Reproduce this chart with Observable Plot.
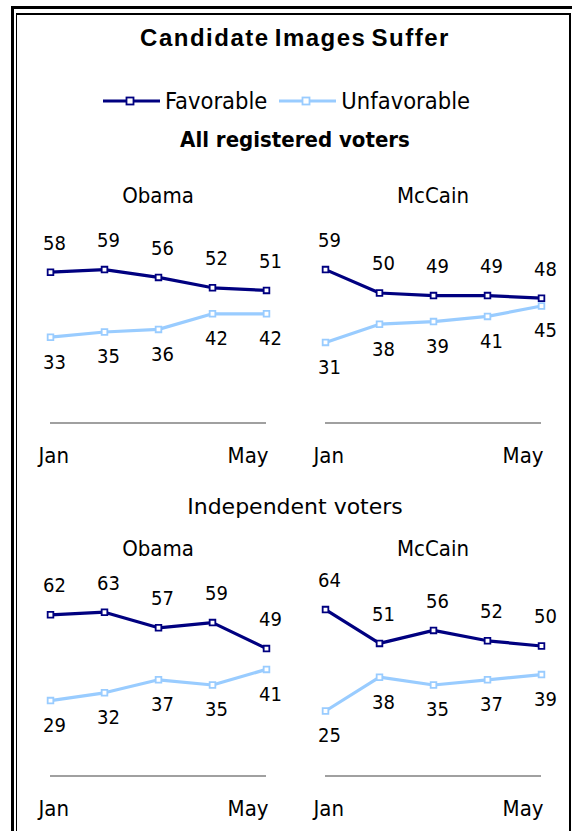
<!DOCTYPE html>
<html>
<head>
<meta charset="utf-8">
<script src="https://cdn.jsdelivr.net/npm/d3@7"></script>
<script src="https://cdn.jsdelivr.net/npm/@observablehq/plot@0.6"></script>
<style>
html,body{margin:0;padding:0;background:#fff;}
#root{position:relative;width:572px;height:831px;overflow:hidden;background:#fff;
  font-family:"DejaVu Sans Condensed","DejaVu Sans",sans-serif;font-stretch:condensed;color:#000;}
.abs{position:absolute;}
.outer{left:11px;top:6px;width:620px;height:900px;border:3px solid #000;z-index:5;}
.inner{left:16px;top:13px;width:552px;height:900px;border-top:2px solid #000;border-right:2px solid #000;border-left:1px solid #000;z-index:5;}
.title{left:0;width:590px;top:26px;line-height:24px;text-align:center;font-family:"Liberation Sans",Arial,sans-serif;font-stretch:normal;font-weight:bold;font-size:24px;letter-spacing:1.5px;word-spacing:-3px;}
.head{left:0;width:590px;text-align:center;font-size:22px;line-height:22px;}
.legend{left:103px;top:89px;height:24px;display:flex;align-items:center;font-size:23.5px;line-height:24px;}
.legend svg{display:block;}
.panel{width:275px;height:300px;}
</style>
</head>
<body>
<div id="root">
  <div class="abs outer"></div>
  <div class="abs inner"></div>
  <div class="abs title" id="title"></div>
  <div class="abs legend" id="legend"></div>
  <div class="abs head" id="head1" style="top:129px;font-weight:bold;"></div>
  <div class="abs head" id="head2" style="top:496px;font-family:'DejaVu Sans',sans-serif;font-stretch:normal;"></div>
  <div class="abs panel" id="p1" style="left:20px;top:170px;"></div>
  <div class="abs panel" id="p2" style="left:295px;top:170px;"></div>
  <div class="abs panel" id="p3" style="left:20px;top:522.5px;"></div>
  <div class="abs panel" id="p4" style="left:295px;top:522.5px;"></div>
</div>
<script>
// ---- data ----
const titleText = "Candidate Images Suffer";
const seriesNames = ["Favorable", "Unfavorable"];
const seriesColors = ["#000080", "#99CCFF"];
const groupNames = ["All registered voters", "Independent voters"];
const candidates = ["Obama", "McCain"];
const months = ["Jan", "Feb", "Mar", "Apr", "May"];
const tickLabels = ["Jan", "May"];

const obamaAllFav = [58, 59, 56, 52, 51];
const obamaAllUnf = [33, 35, 36, 42, 42];
const mccainAllFav = [59, 50, 49, 49, 48];
const mccainAllUnf = [31, 38, 39, 41, 45];
const obamaIndFav = [62, 63, 57, 59, 49];
const obamaIndUnf = [29, 32, 37, 35, 41];
const mccainIndFav = [64, 51, 56, 52, 50];
const mccainIndUnf = [25, 38, 35, 37, 39];

// ---- headings ----
document.getElementById("title").textContent = titleText;
document.getElementById("head1").textContent = groupNames[0];
document.getElementById("head2").textContent = groupNames[1];

// ---- legend ----
const legend = d3.select("#legend");
seriesNames.forEach((name, i) => {
  const sw = legend.append("svg").attr("width", 57).attr("height", 14)
    .style("margin-left", i === 0 ? "0px" : "12px");
  sw.append("line").attr("x1", 0).attr("x2", 57).attr("y1", 7).attr("y2", 7)
    .attr("stroke", seriesColors[i]).attr("stroke-width", 3);
  sw.append("rect").attr("x", 27 - 3.5).attr("y", 7 - 3.5).attr("width", 7).attr("height", 7)
    .attr("fill", "white").attr("stroke", seriesColors[i]).attr("stroke-width", 1.8);
  legend.append("span").text(name).style("margin-left", "5px");
});

// ---- panels ----
const font = '"DejaVu Sans Condensed","DejaVu Sans",sans-serif';
function panel(name, fav, unf) {
  const long = [];
  months.forEach((m, i) => {
    long.push({month: m, series: seriesNames[0], value: fav[i]});
    long.push({month: m, series: seriesNames[1], value: unf[i]});
  });
  const favRows = long.filter(d => d.series === seriesNames[0]);
  const unfRows = long.filter(d => d.series === seriesNames[1]);
  return Plot.plot({
    width: 275,
    height: 300,
    margin: 0,
    style: {fontFamily: font, fontStretch: "condensed", background: "transparent", overflow: "visible", color: "#000"},
    x: {type: "point", domain: months, range: [28, 247], padding: 0, axis: null},
    y: {domain: [0, 100], range: [252.5, -7.5], axis: null},
    color: {domain: seriesNames, range: seriesColors},
    marks: [
      Plot.ruleY([{v: 0, a: months[0], b: months[months.length - 1]}],
        {y: "v", x1: "a", x2: "b", stroke: "#808080", strokeWidth: 1.3}),
      Plot.line(long, {x: "month", y: "value", z: "series", stroke: "series", strokeWidth: 3.2}),
      Plot.dot(long, {x: "month", y: "value", symbol: "square", r: 3.2, fill: "white", stroke: "series", strokeWidth: 1.8}),
      Plot.text(favRows, {x: "month", y: "value", text: d => String(d.value), dx: 4, dy: -29, fontSize: 20, fill: "#000", lineAnchor: "middle"}),
      Plot.text(unfRows, {x: "month", y: "value", text: d => String(d.value), dx: 4, dy: 25, fontSize: 20, fill: "#000", lineAnchor: "middle"}),
      Plot.text([name], {frameAnchor: "top", lineAnchor: "middle", dy: 25, fontSize: 22, fill: "#000"}),
      Plot.text([tickLabels[0]], {x: d => d, y: () => 0, dx: -12, dy: 32.5, textAnchor: "start", lineAnchor: "middle", fontSize: 22, fill: "#000"}),
      Plot.text([tickLabels[1]], {x: d => d, y: () => 0, dx: 2, dy: 32.5, textAnchor: "end", lineAnchor: "middle", fontSize: 22, fill: "#000"})
    ]
  });
}
document.getElementById("p1").append(panel(candidates[0], obamaAllFav, obamaAllUnf));
document.getElementById("p2").append(panel(candidates[1], mccainAllFav, mccainAllUnf));
document.getElementById("p3").append(panel(candidates[0], obamaIndFav, obamaIndUnf));
document.getElementById("p4").append(panel(candidates[1], mccainIndFav, mccainIndUnf));
</script>
</body>
</html>
